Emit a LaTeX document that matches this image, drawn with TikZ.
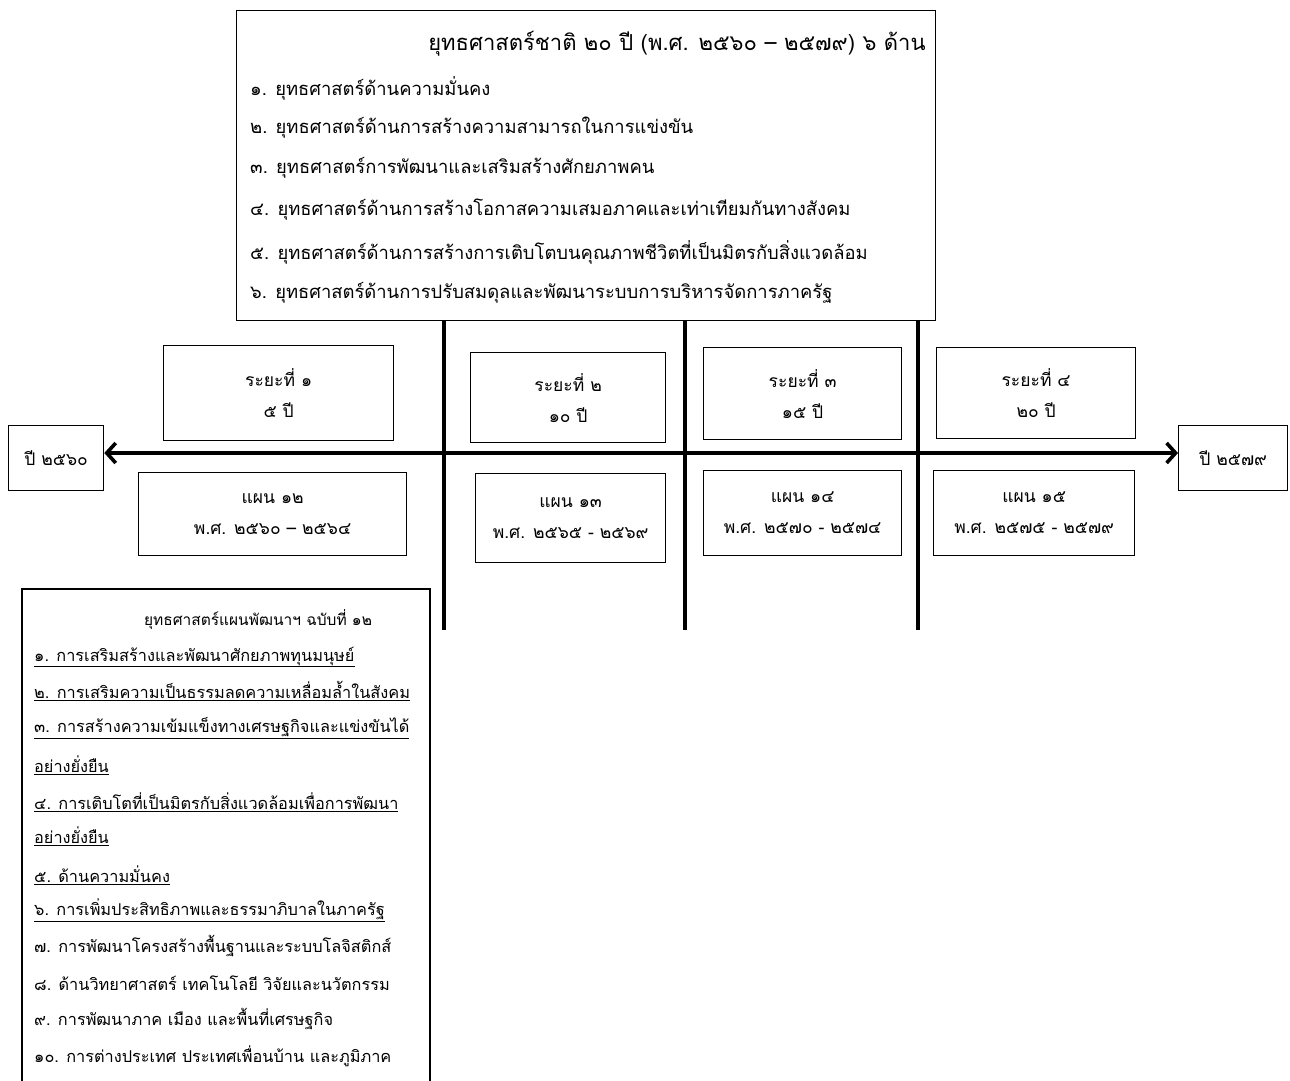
\documentclass[tikz,border=0pt]{standalone}
\usepackage{fontspec}
\newfontfamily\thai[Script=Thai]{Loma}
\usetikzlibrary{arrows.meta}
\begin{document}
\begin{tikzpicture}[x=1pt,y=-1pt,
  frame/.style={draw,line width=1.3pt,inner sep=0pt,anchor=north west},
  bar/.style={line width=3.6pt},
  itm/.style={anchor=west,inner sep=0pt,font=\thai\fontsize{18.4}{20}\selectfont},
  bitm/.style={anchor=west,inner sep=0pt,font=\thai\fontsize{16.3}{18}\selectfont},
  lbl/.style={align=center,font=\thai\fontsize{17.5}{31}\selectfont},
]
\useasboundingbox[fill=white] (0,0) rectangle (1290,1081);

% top box
\node[frame,minimum width=699pt,minimum height=310pt] (top) at (236,10) {};
\node[anchor=center,inner sep=0pt,font=\thai\fontsize{22}{24}\selectfont] (title) at (677,44) {ยุทธศาสตร์ชาติ ๒๐ ปี  (พ.ศ. ๒๕๖๐ – ๒๕๗๙) ๖ ด้าน};
\node[itm] (t1) at (250,88)  {๑. ยุทธศาสตร์ด้านความมั่นคง};
\node[itm] (t2) at (250,128) {๒. ยุทธศาสตร์ด้านการสร้างความสามารถในการแข่งขัน};
\node[itm] (t3) at (250,168) {๓. ยุทธศาสตร์การพัฒนาและเสริมสร้างศักยภาพคน};
\node[itm] (t4) at (250,210) {๔. ยุทธศาสตร์ด้านการสร้างโอกาสความเสมอภาคและเท่าเทียมกันทางสังคม};
\node[itm] (t5) at (250,252) {๕. ยุทธศาสตร์ด้านการสร้างการเติบโตบนคุณภาพชีวิตที่เป็นมิตรกับสิ่งแวดล้อม};
\node[itm] (t6) at (250,293) {๖. ยุทธศาสตร์ด้านการปรับสมดุลและพัฒนาระบบการบริหารจัดการภาครัฐ};

% vertical dividers
\coordinate (v1) at (444,630);
\coordinate (v2) at (685,630);
\coordinate (v3) at (918,630);
\draw[bar] (top.south -| v1) -- (v1);
\draw[bar] (top.south -| v2) -- (v2);
\draw[bar] (top.south -| v3) -- (v3);

% end boxes
\node[frame,minimum width=95pt,minimum height=65pt,lbl] (ys) at (8,425) {ปี ๒๕๖๐};
\node[frame,minimum width=109pt,minimum height=65pt,lbl] (ye) at (1178,425) {ปี ๒๕๗๙};
\coordinate (axis) at (0,453);
\draw[bar,{Straight Barb[length=9pt,width=20pt]}-{Straight Barb[length=9pt,width=20pt]}] (ys.east |- axis) -- (ye.west |- axis);

% periods
\node[frame,minimum width=230pt,minimum height=95pt,lbl] (p1) at (163,345) {ระยะที่ ๑\\๕ ปี};
\node[frame,minimum width=195pt,minimum height=90pt,lbl] (p2) at (470,352) {ระยะที่ ๒\\๑๐ ปี};
\node[frame,minimum width=198pt,minimum height=92pt,lbl] (p3) at (703,347) {ระยะที่ ๓\\๑๕ ปี};
\node[frame,minimum width=199pt,minimum height=91pt,lbl] (p4) at (936,347) {ระยะที่ ๔\\๒๐ ปี};

% plans
\node[frame,minimum width=268pt,minimum height=83pt,lbl] (n1) at (138,472) {แผน ๑๒\\พ.ศ. ๒๕๖๐ – ๒๕๖๔};
\node[frame,minimum width=190pt,minimum height=89pt,lbl] (n2) at (475,473) {แผน ๑๓\\พ.ศ. ๒๕๖๕ - ๒๕๖๙};
\node[frame,minimum width=198pt,minimum height=85pt,lbl] (n3) at (703,470) {แผน ๑๔\\พ.ศ. ๒๕๗๐ - ๒๕๗๔};
\node[frame,minimum width=201pt,minimum height=85pt,lbl] (n4) at (933,470) {แผน ๑๕\\พ.ศ. ๒๕๗๕ - ๒๕๗๙};

% bottom-left box
\draw[line width=1.3pt] (22,1085) -- (22,589) -- (430,589) -- (430,1085);
\node[anchor=center,inner sep=0pt,font=\thai\fontsize{15.5}{18}\selectfont] (bt) at (258,620) {ยุทธศาสตร์แผนพัฒนาฯ ฉบับที่ ๑๒};
\node[bitm] (b1)  at (34,657)  {\underline{๑. การเสริมสร้างและพัฒนาศักยภาพทุนมนุษย์}};
\node[bitm] (b2)  at (34,691)  {\underline{๒. การเสริมความเป็นธรรมลดความเหลื่อมล้ำในสังคม}};
\node[bitm] (b3)  at (34,728)  {\underline{๓. การสร้างความเข้มแข็งทางเศรษฐกิจและแข่งขันได้}};
\node[bitm] (b3b) at (34,765)  {\underline{อย่างยั่งยืน}};
\node[bitm] (b4)  at (34,802)  {\underline{๔. การเติบโตที่เป็นมิตรกับสิ่งแวดล้อมเพื่อการพัฒนา}};
\node[bitm] (b4b) at (34,836)  {\underline{อย่างยั่งยืน}};
\node[bitm] (b5)  at (34,875)  {\underline{๕. ด้านความมั่นคง}};
\node[bitm] (b6)  at (34,910)  {\underline{๖. การเพิ่มประสิทธิภาพและธรรมาภิบาลในภาครัฐ}};
\node[bitm] (b7)  at (34,946)  {๗. การพัฒนาโครงสร้างพื้นฐานและระบบโลจิสติกส์};
\node[bitm] (b8)  at (34,983)  {๘. ด้านวิทยาศาสตร์ เทคโนโลยี วิจัยและนวัตกรรม};
\node[bitm] (b9)  at (34,1019) {๙. การพัฒนาภาค เมือง และพื้นที่เศรษฐกิจ};
\node[bitm] (b10) at (34,1056) {๑๐. การต่างประเทศ ประเทศเพื่อนบ้าน และภูมิภาค};
\end{tikzpicture}
\end{document}
